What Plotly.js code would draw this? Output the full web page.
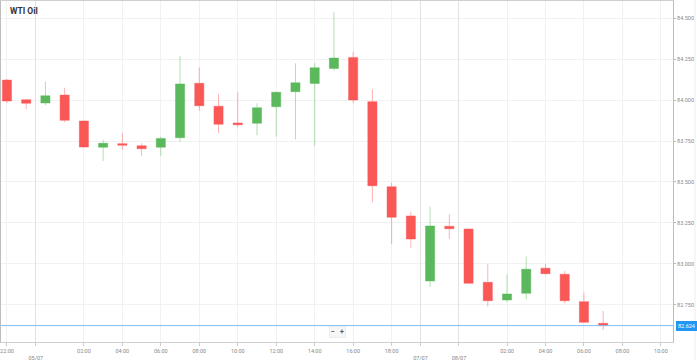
<!DOCTYPE html>
<html>
<head>
<meta charset="utf-8">
<script src="https://cdn.plot.ly/plotly-3.0.1.min.js"></script>
<style>
html,body{margin:0;padding:0;background:#fff;}
#chart{width:697px;height:360px;}
</style>
</head>
<body>
<div id="chart"></div>
<script>
// hourly slots (index along the broken time axis)
var slots = [0,1,2,3,4,5,6,7,8,9,10,11,12,13,14,15,16,17,18,19,20,21,22,23,24,25,26,27,28,29,30,31];
var opens  = [84.122,84.002,83.982,84.030,83.872,83.712,83.734,83.721,83.712,83.770,84.102,83.962,83.860,83.858,83.959,84.051,84.101,84.193,84.260,83.990,83.471,83.293,82.896,83.230,83.213,82.888,82.780,82.821,82.974,82.937,82.770,82.638];
var highs  = [84.128,84.006,84.112,84.075,83.875,83.758,83.797,83.736,83.776,84.268,84.199,84.037,84.047,83.980,84.051,84.224,84.227,84.537,84.295,84.065,83.496,83.319,83.349,83.303,83.216,82.998,82.937,83.045,82.998,82.957,82.825,82.713];
var lows   = [83.982,83.945,83.968,83.864,83.710,83.628,83.697,83.659,83.659,83.746,83.935,83.797,83.834,83.785,83.776,83.760,83.720,84.179,83.980,83.376,83.120,83.099,82.860,83.152,82.879,82.740,82.766,82.785,82.933,82.760,82.638,82.598];
var closes = [83.994,83.980,84.026,83.876,83.713,83.736,83.724,83.703,83.766,84.098,83.965,83.852,83.849,83.953,84.047,84.105,84.197,84.256,84.000,83.477,83.285,83.152,83.232,83.215,82.882,82.776,82.817,82.968,82.941,82.776,82.644,82.624];

var tickPos    = [0,1.5,4,6,8,10,12,14,16,18,20,21.5,23.5,26,28,30,32,34];
var tickLabels = ["22:00","<br>05/07","02:00","04:00","06:00","08:00","10:00","12:00","14:00","16:00","18:00","<br>07/07","<br>08/07","02:00","04:00","06:00","08:00","10:00"];
var datePos    = [1.5,21.5,23.5];
var priceTicks = [82.75,83.0,83.25,83.5,83.75,84.0,84.25,84.5];

var lastPrice = closes[closes.length-1];
var xr = [-0.31, 34.63];
var yr = [82.524, 84.604];

var trace = {
  type: 'candlestick',
  x: slots, open: opens, high: highs, low: lows, close: closes,
  increasing: {fillcolor: '#5cb85c', line: {color: 'rgba(92,184,92,0.45)', width: 1}},
  decreasing: {fillcolor: '#fa5757', line: {color: 'rgba(250,87,87,0.45)', width: 1}},
  whiskerwidth: 0,
  hoverinfo: 'skip',
  showlegend: false
};

// overlay axis only for the darker date gridlines
var gridTrace = {type:'scatter', x:[xr[0]], y:[yr[0]], xaxis:'x2', mode:'markers', marker:{opacity:0}, showlegend:false, hoverinfo:'skip'};

var layout = {
  width: 697, height: 360,
  margin: {l: 1, r: 24, t: 1, b: 18},
  paper_bgcolor: '#ffffff',
  plot_bgcolor: '#ffffff',
  boxgap: 0.32,
  font: {family: 'Roboto, "Liberation Sans", Arial, sans-serif', color: '#777'},
  title: {text: '<b>WTI Oil</b>', x: 10/697, xref: 'container', xanchor: 'left', y: 1 - 11/360, yref: 'container', yanchor: 'middle',
          font: {size: 8.5, color: '#333', family: 'Roboto, "Liberation Sans", Arial, sans-serif'}},
  xaxis: {
    range: xr, type: 'linear', fixedrange: true,
    rangeslider: {visible: false},
    tickmode: 'array', tickvals: tickPos, ticktext: tickLabels,
    tickfont: {size: 5.5, color: '#888'},
    ticks: 'outside', ticklen: 3, tickcolor: '#ccc',
    showgrid: true, gridcolor: '#f1f1f1', gridwidth: 1,
    showline: true, linecolor: '#cfcfcf', linewidth: 1, mirror: true,
    zeroline: false
  },
  xaxis2: {
    range: xr, type: 'linear', overlaying: 'x', fixedrange: true,
    tickmode: 'array', tickvals: datePos, showticklabels: false,
    showgrid: true, gridcolor: '#e2e2e2', gridwidth: 1, zeroline: false, showline: false
  },
  yaxis: {
    range: yr, side: 'right', fixedrange: true,
    tickmode: 'array', tickvals: priceTicks, tickformat: '.3f',
    tickfont: {size: 5.5, color: '#888'},
    ticks: 'outside', ticklen: 2, tickcolor: '#bbb',
    showgrid: true, gridcolor: '#f1f1f1',
    showline: true, linecolor: '#bdbdbd', linewidth: 1, mirror: true,
    zeroline: false
  },
  shapes: [
    {type: 'line', xref: 'paper', x0: 0, x1: 1, yref: 'y', y0: lastPrice, y1: lastPrice,
     line: {color: '#7fbdf0', width: 1}},
    {type: 'line', xref: 'paper', x0: 694/672, x1: 694/672, yref: 'paper', y0: -0.06, y1: 1.01,
     line: {color: '#eeeeee', width: 1}}
  ],
  annotations: [
    {xref: 'paper', x: 1, xanchor: 'left', xshift: 3, yref: 'y', y: lastPrice, yanchor: 'middle',
     text: lastPrice.toFixed(3), showarrow: false, bgcolor: '#2196f3', bordercolor: '#2196f3', borderpad: 1,
     font: {size: 5.5, color: '#ffffff'}},
    {xref: 'paper', x: (337.5-1)/672, yref: 'paper', y: (342-332)/341, xanchor: 'center', yanchor: 'middle',
     text: '<b>−</b>   <b>+</b>', showarrow: false, bgcolor: '#f6f6f6', bordercolor: '#ececec', borderwidth: 1, borderpad: 1,
     font: {size: 7, color: '#555'}}
  ]
};

Plotly.newPlot('chart', [gridTrace, trace], layout, {displayModeBar: false, staticPlot: true});
</script>
</body>
</html>
